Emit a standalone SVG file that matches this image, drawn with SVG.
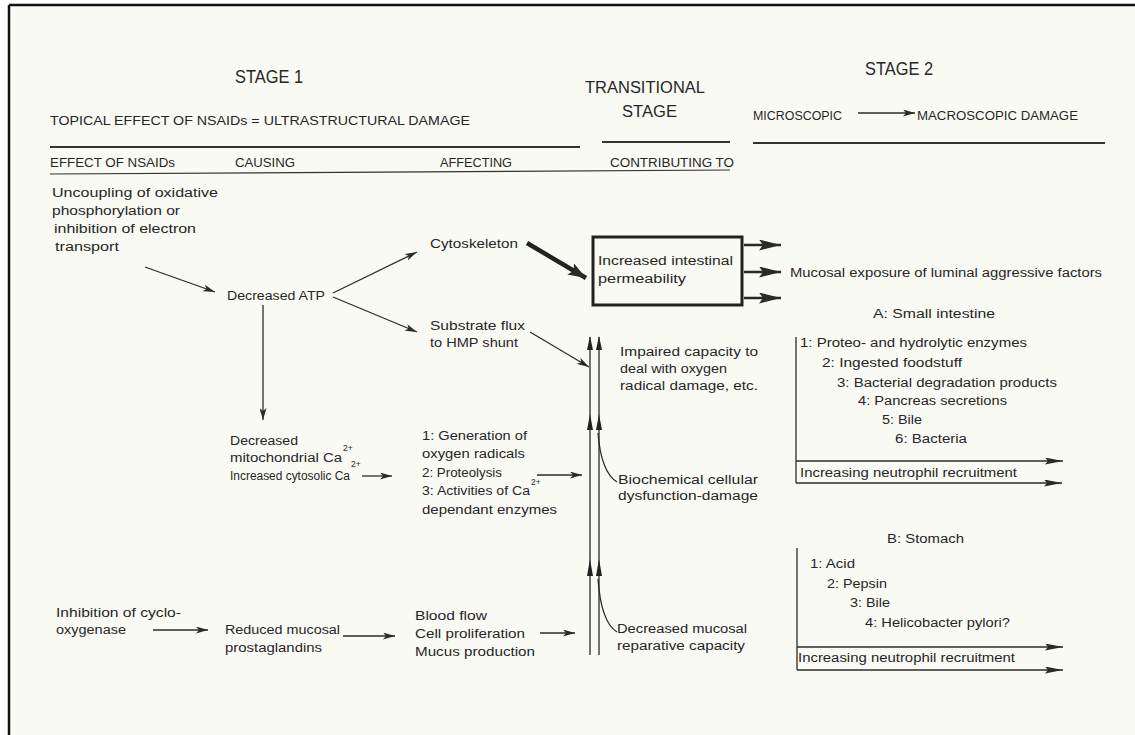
<svg xmlns="http://www.w3.org/2000/svg" width="1135" height="735" viewBox="0 0 1135 735">
<style>
text{font-family:"Liberation Sans","DejaVu Sans",sans-serif;fill:#262626;font-size:12.5px}
.h1{font-size:18px}
.h2{font-size:16px}
.hd{font-size:13.5px}
.sup{font-size:8.5px}
.ln{stroke:#2b2b2b;fill:none;stroke-width:1.3}
.rule{stroke:#333;fill:none;stroke-width:2}
.thin{stroke:#333;fill:none;stroke-width:1.2}
</style>
<defs>
<marker id="a" markerUnits="userSpaceOnUse" viewBox="0 0 12 7" refX="12" refY="3.5" markerWidth="12" markerHeight="7" orient="auto"><path d="M0,0 L12,3.5 L0,7 L3,3.5 z" fill="#2b2b2b"/></marker>
<marker id="al" markerUnits="userSpaceOnUse" viewBox="0 0 18 7" refX="18" refY="3.5" markerWidth="18" markerHeight="7" orient="auto"><path d="M0,0 L18,3.5 L0,7 L3,3.5 z" fill="#2b2b2b"/></marker>
<marker id="ab" markerUnits="userSpaceOnUse" viewBox="0 0 22 11" refX="22" refY="5.5" markerWidth="22" markerHeight="11" orient="auto"><path d="M0,0 L22,5.5 L0,11 L4,5.5 z" fill="#2b2b2b"/></marker>
<marker id="at" markerUnits="userSpaceOnUse" viewBox="0 0 18 13" refX="18" refY="6.5" markerWidth="18" markerHeight="13" orient="auto"><path d="M0,0 L18,6.5 L0,13 L4,6.5 z" fill="#2b2b2b"/></marker>
</defs>
<rect x="0" y="0" width="1135" height="735" fill="#ffffff"/>
<rect x="9" y="5" width="1126" height="730" fill="#fafaf5"/>
<path d="M9,5 H1135 M9,5 V735" stroke="#111" stroke-width="2.5" fill="none"/>

<g id="headers">
<text class="h1" x="235" y="83" textLength="68" lengthAdjust="spacingAndGlyphs">STAGE 1</text>
<text class="hd" x="50" y="125" textLength="420" lengthAdjust="spacingAndGlyphs">TOPICAL EFFECT OF NSAIDs = ULTRASTRUCTURAL DAMAGE</text>
<text class="h2" x="585" y="93" textLength="120" lengthAdjust="spacingAndGlyphs">TRANSITIONAL</text>
<text class="h2" x="622" y="117" textLength="55" lengthAdjust="spacingAndGlyphs">STAGE</text>
<text class="h1" x="865" y="75" textLength="68" lengthAdjust="spacingAndGlyphs">STAGE 2</text>
<text x="753" y="120" textLength="89" lengthAdjust="spacingAndGlyphs">MICROSCOPIC</text>
<text x="917" y="120" textLength="161" lengthAdjust="spacingAndGlyphs">MACROSCOPIC DAMAGE</text>
<text x="50" y="167" textLength="125" lengthAdjust="spacingAndGlyphs">EFFECT OF NSAIDs</text>
<text x="235" y="167" textLength="60" lengthAdjust="spacingAndGlyphs">CAUSING</text>
<text x="440" y="167" textLength="72" lengthAdjust="spacingAndGlyphs">AFFECTING</text>
<text x="610" y="167" textLength="124" lengthAdjust="spacingAndGlyphs">CONTRIBUTING TO</text>
<path class="rule" d="M50,147 H580 M602,142 H730 M753,143 H1105"/>
<path class="thin" d="M50,174 L730,170"/>
</g>

<g id="n-uncoupling">
<text x="52" y="197" textLength="166" lengthAdjust="spacingAndGlyphs">Uncoupling of oxidative</text>
<text x="52" y="215" textLength="128" lengthAdjust="spacingAndGlyphs">phosphorylation or</text>
<text x="54" y="233" textLength="142" lengthAdjust="spacingAndGlyphs">inhibition of electron</text>
<text x="55" y="251" textLength="64" lengthAdjust="spacingAndGlyphs">transport</text>
</g>
<g id="n-atp"><text x="227" y="300" textLength="98" lengthAdjust="spacingAndGlyphs">Decreased ATP</text></g>
<g id="n-cyto"><text x="430" y="248" textLength="88" lengthAdjust="spacingAndGlyphs">Cytoskeleton</text></g>
<g id="n-perm">
<rect x="593" y="237" width="149" height="68" fill="none" stroke="#222" stroke-width="3"/>
<text x="598" y="265" textLength="135" lengthAdjust="spacingAndGlyphs">Increased intestinal</text>
<text x="598" y="283" textLength="88" lengthAdjust="spacingAndGlyphs">permeability</text>
</g>
<g id="n-mucosal-exposure"><text x="790" y="277" textLength="312" lengthAdjust="spacingAndGlyphs">Mucosal exposure of luminal aggressive factors</text></g>
<g id="n-substrate">
<text x="430" y="330" textLength="95" lengthAdjust="spacingAndGlyphs">Substrate flux</text>
<text x="430" y="347" textLength="88" lengthAdjust="spacingAndGlyphs">to HMP shunt</text>
</g>
<g id="n-impaired">
<text x="620" y="356" textLength="138" lengthAdjust="spacingAndGlyphs">Impaired capacity to</text>
<text x="620" y="373" textLength="107" lengthAdjust="spacingAndGlyphs">deal with oxygen</text>
<text x="620" y="390" textLength="138" lengthAdjust="spacingAndGlyphs">radical damage, etc.</text>
</g>
<g id="n-ca">
<text x="230" y="445" textLength="68" lengthAdjust="spacingAndGlyphs">Decreased</text>
<text x="230" y="462" textLength="112" lengthAdjust="spacingAndGlyphs">mitochondrial Ca</text>
<text class="sup" x="343" y="451">2+</text>
<text x="230" y="480" textLength="120" lengthAdjust="spacingAndGlyphs">Increased cytosolic Ca</text>
<text class="sup" x="351" y="467">2+</text>
</g>
<g id="n-generation">
<text x="422" y="440" textLength="105" lengthAdjust="spacingAndGlyphs">1: Generation of</text>
<text x="422" y="458" textLength="103" lengthAdjust="spacingAndGlyphs">oxygen radicals</text>
<text x="422" y="477" textLength="80" lengthAdjust="spacingAndGlyphs">2: Proteolysis</text>
<text x="422" y="495" textLength="108" lengthAdjust="spacingAndGlyphs">3: Activities of Ca</text>
<text class="sup" x="531" y="485">2+</text>
<text x="422" y="514" textLength="135" lengthAdjust="spacingAndGlyphs">dependant enzymes</text>
</g>
<g id="n-biochem">
<text x="618" y="484" textLength="140" lengthAdjust="spacingAndGlyphs">Biochemical cellular</text>
<text x="618" y="500" textLength="140" lengthAdjust="spacingAndGlyphs">dysfunction-damage</text>
</g>
<g id="n-cyclo">
<text x="56" y="617" textLength="125" lengthAdjust="spacingAndGlyphs">Inhibition of cyclo-</text>
<text x="56" y="634" textLength="70" lengthAdjust="spacingAndGlyphs">oxygenase</text>
</g>
<g id="n-prosta">
<text x="225" y="634" textLength="115" lengthAdjust="spacingAndGlyphs">Reduced mucosal</text>
<text x="225" y="652" textLength="97" lengthAdjust="spacingAndGlyphs">prostaglandins</text>
</g>
<g id="n-blood">
<text x="415" y="620" textLength="72" lengthAdjust="spacingAndGlyphs">Blood flow</text>
<text x="415" y="638" textLength="110" lengthAdjust="spacingAndGlyphs">Cell proliferation</text>
<text x="415" y="656" textLength="120" lengthAdjust="spacingAndGlyphs">Mucus production</text>
</g>
<g id="n-reparative">
<text x="617" y="633" textLength="130" lengthAdjust="spacingAndGlyphs">Decreased mucosal</text>
<text x="617" y="650" textLength="128" lengthAdjust="spacingAndGlyphs">reparative capacity</text>
</g>
<g id="n-small-intestine">
<text x="873" y="318" textLength="122" lengthAdjust="spacingAndGlyphs">A: Small intestine</text>
<text x="800" y="347" textLength="227" lengthAdjust="spacingAndGlyphs">1: Proteo- and hydrolytic enzymes</text>
<text x="822" y="367" textLength="140" lengthAdjust="spacingAndGlyphs">2: Ingested foodstuff</text>
<text x="837" y="387" textLength="220" lengthAdjust="spacingAndGlyphs">3: Bacterial degradation products</text>
<text x="858" y="405" textLength="149" lengthAdjust="spacingAndGlyphs">4: Pancreas secretions</text>
<text x="882" y="424" textLength="40" lengthAdjust="spacingAndGlyphs">5: Bile</text>
<text x="895" y="443" textLength="72" lengthAdjust="spacingAndGlyphs">6: Bacteria</text>
<text x="800" y="477" textLength="217" lengthAdjust="spacingAndGlyphs">Increasing neutrophil recruitment</text>
</g>
<g id="n-stomach">
<text x="887" y="543" textLength="77" lengthAdjust="spacingAndGlyphs">B: Stomach</text>
<text x="810" y="568" textLength="45" lengthAdjust="spacingAndGlyphs">1: Acid</text>
<text x="827" y="588" textLength="60" lengthAdjust="spacingAndGlyphs">2: Pepsin</text>
<text x="850" y="607" textLength="40" lengthAdjust="spacingAndGlyphs">3: Bile</text>
<text x="865" y="627" textLength="145" lengthAdjust="spacingAndGlyphs">4: Helicobacter pylori?</text>
<text x="798" y="662" textLength="217" lengthAdjust="spacingAndGlyphs">Increasing neutrophil recruitment</text>
</g>

<g id="connectors">
<path class="ln" d="M858,113 H915" marker-end="url(#a)"/>
<path class="ln" d="M145,267 L215,292" marker-end="url(#a)"/>
<path class="ln" d="M333,293 L417,252" marker-end="url(#a)"/>
<path class="ln" d="M333,297 L417,332" marker-end="url(#a)"/>
<path class="ln" d="M263,305 V420" marker-end="url(#a)"/>
<path d="M527,243 L586,278" stroke="#222" stroke-width="4.5" fill="none" marker-end="url(#at)"/>
<path d="M744,245 H781 M744,272 H781 M744,298 H781" stroke="#222" stroke-width="2.5" fill="none"/>
<path class="ln" d="M744,245 H781" marker-end="url(#ab)"/>
<path class="ln" d="M744,272 H781" marker-end="url(#ab)"/>
<path class="ln" d="M744,298 H781" marker-end="url(#ab)"/>
<path class="ln" d="M530,332 L589,367" marker-end="url(#a)"/>
<path class="ln" d="M362,476 H392" marker-end="url(#a)"/>
<path class="ln" d="M537,475 H582" marker-end="url(#a)"/>
<path class="ln" d="M153,630 H208" marker-end="url(#a)"/>
<path class="ln" d="M343,636 H395" marker-end="url(#a)"/>
<path class="ln" d="M540,633 H575" marker-end="url(#a)"/>
<path class="ln" d="M590,337 V655 M599,337 V655"/>
<path d="M590,336 L587,350 L593,350 z M599,336 L596,350 L602,350 z M590,414 L587,430 L593,430 z M599,414 L596,430 L602,430 z M590,559 L587,576 L593,576 z M599,559 L596,576 L602,576 z" fill="#222"/>
<path class="ln" d="M598,433 Q601,472 617,482 M598,579 Q601,622 617,632"/>
<path class="ln" d="M796,337 V483"/>
<path class="ln" d="M796,461 H1063" marker-end="url(#al)"/>
<path class="ln" d="M796,483 H1062" marker-end="url(#al)"/>
<path class="ln" d="M797,548 V670"/>
<path class="ln" d="M797,647 H1063" marker-end="url(#al)"/>
<path class="ln" d="M797,670 H1063" marker-end="url(#al)"/>
</g>
</svg>
